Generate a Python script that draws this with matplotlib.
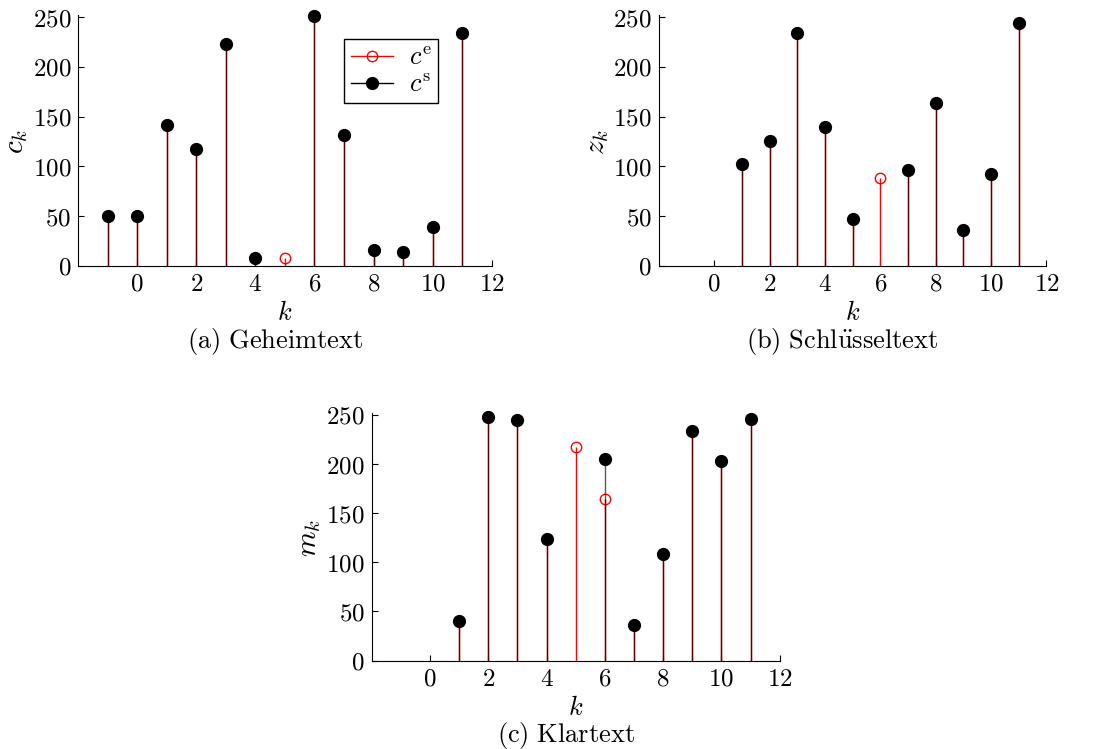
import numpy as np
import matplotlib
matplotlib.use("Agg")
import matplotlib.pyplot as plt

plt.rcParams['mathtext.fontset'] = 'cm'
plt.rcParams['font.family'] = 'serif'
plt.rcParams['font.serif'] = ['DejaVu Serif']

# Daten
k_a = np.array([-1, 0, 1, 2, 3, 4, 5, 6, 7, 8, 9, 10, 11])
ce_a = np.array([50, 50, 142, 118, 223, 8, 8, 251, 132, 16, 14, 39, 234])
cs_a = np.array([50, 50, 142, 118, 223, 8, np.nan, 251, 132, 16, 14, 39, 234])

k_b = np.array([1, 2, 3, 4, 5, 6, 7, 8, 9, 10, 11])
ce_b = np.array([102, 126, 234, 140, 47, 88, 96, 164, 36, 92, 244])
cs_b = np.array([102, 126, 234, 140, 47, np.nan, 96, 164, 36, 92, 244])

k_c = np.array([1, 2, 3, 4, 5, 6, 7, 8, 9, 10, 11])
ce_c = np.array([40, 248, 245, 124, 217, 164, 36, 108, 234, 203, 246])
cs_c = np.array([40, 248, 245, 124, np.nan, 205, 36, 108, 234, 203, 246])

xticks = [0, 2, 4, 6, 8, 10, 12]
yticks = [0, 50, 100, 150, 200, 250]

fs = 18

fig = plt.figure(figsize=(10.98, 7.49), dpi=100)

def stemplot(ax, k, ce, cs, ylab, caption, legend=False):
    m = ~np.isnan(ce)
    ax.vlines(k[m], 0, ce[m], color='red', lw=1.0, zorder=2)
    ax.plot(k[m], ce[m], 'o', mfc='none', mec='red', ms=7.5, mew=1.0, zorder=3, clip_on=False)
    m = ~np.isnan(cs)
    ax.vlines(k[m], 0, cs[m], color='black', lw=1.0, alpha=0.65, zorder=4)
    ax.plot(k[m], cs[m], 'o', color='black', ms=8.5, zorder=5, clip_on=False)
    ax.set_xlim(-2, 12)
    ax.set_ylim(0, 250)
    ax.set_xticks(xticks)
    ax.set_xticklabels(['$%d$' % t for t in xticks])
    ax.set_yticks(yticks)
    ax.set_yticklabels(['$%d$' % t for t in yticks])
    ax.tick_params(direction='in', length=4, labelsize=fs, pad=5)
    for s in ['top', 'right']:
        ax.spines[s].set_visible(False)
    ax.spines['left'].set_bounds(0, 252)
    ax.set_xlabel('$k$', fontsize=fs + 1, labelpad=3)
    ax.set_ylabel(ylab, fontsize=fs + 3, labelpad=2)
    # Unterschrift etwas links von der Achsenmitte
    w = ax.get_position().width * fig.get_figwidth() * fig.dpi
    ax.text(0.5 - 10 / w, -0.305, caption, transform=ax.transAxes, ha='center',
            va='center', fontsize=fs + 1)
    if legend:
        ll1, = ax.plot([], [], '-o', color='red', mfc='none', mec='red', ms=7.5, lw=1.0)
        ll2, = ax.plot([], [], '-o', color='black', ms=8.5, lw=1.0)
        ax.legend([ll1, ll2], [r'$c^{\mathrm{e}}$', r'$c^{\mathrm{s}}$'],
                  loc='upper left', bbox_to_anchor=(0.6425, 0.913), fontsize=fs + 1,
                  frameon=True, fancybox=False, edgecolor='black', framealpha=1,
                  handlelength=1.6, borderpad=0.25, labelspacing=0.05,
                  handletextpad=0.6, borderaxespad=0)

ax1 = fig.add_axes([0.071, 0.645, 0.377, 0.332])
stemplot(ax1, k_a, ce_a, cs_a, '$c_k$', r'$\mathrm{(a)\ Geheimtext}$', legend=True)

ax2 = fig.add_axes([0.600, 0.645, 0.353, 0.332])
stemplot(ax2, k_b, ce_b, cs_b, '$z_k$', r'$\mathrm{(b)\ Schl\ddot{u}sseltext}$')

ax3 = fig.add_axes([0.3385, 0.118, 0.3716, 0.328])
stemplot(ax3, k_c, ce_c, cs_c, '$m_k$', r'$\mathrm{(c)\ Klartext}$')

fig.savefig('out.png', dpi=100)
